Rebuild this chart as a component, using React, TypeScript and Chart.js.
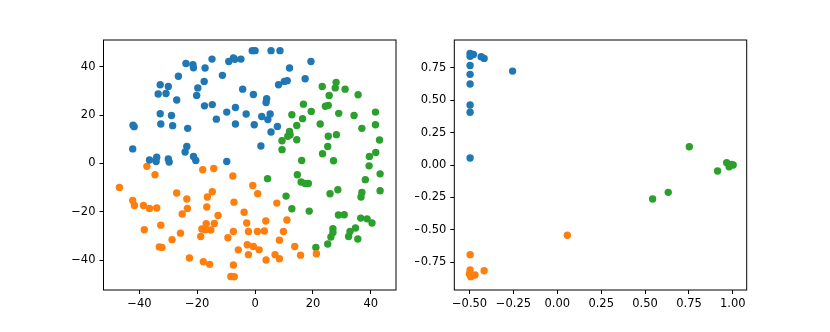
import React, { useEffect, useRef } from 'react';
import { Chart, registerables } from 'chart.js';
Chart.register(...registerables);

const BLUE = '#1f77b4';
const ORANGE = '#ff7f0e';
const GREEN = '#2ca02c';

// Left panel (t-SNE-like embedding)
const leftBlue: [number, number][] = [
  [-23.9, 41.3], [-21.5, 40.8], [-21.3, 39.5], [-14.9, 43.1], [-17.3, 39.4], [-9.1, 42.1],
  [-7.5, 43.6], [-7.0, 43.0], [-4.9, 43.1], [-26.5, 36.0], [-11.3, 36.4], [-17.6, 33.9],
  [-32.8, 32.5], [-30.0, 31.8], [-19.8, 31.2], [-33.5, 28.7], [-30.8, 28.9], [-20.2, 28.1],
  [-4.3, 30.7], [-27.1, 26.2], [-17.5, 23.8], [-14.8, 24.3], [-6.8, 23.1], [-9.8, 21.2],
  [-32.8, 20.5], [-28.9, 19.8], [-3.1, 20.4], [-13.4, 18.3], [-32.6, 16.3], [-28.5, 15.6],
  [-23.3, 14.5], [-6.8, 16.3], [-41.8, 15.2], [-42.2, 15.8], [-42.3, 6.0], [-23.6, 7.0],
  [-24.2, 4.7], [-21.3, 2.9], [-20.5, 1.2], [-36.5, 1.4], [-34.0, 2.6], [-34.2, 0.8],
  [-30.0, 1.8], [-29.7, 0.6], [-9.8, 0.8],
  [-1.0, 46.6], [0.0, 46.6], [5.5, 46.6], [8.6, 46.6], [19.3, 42.1], [11.9, 39.4],
  [17.3, 35.0], [8.1, 32.5], [10.1, 33.9], [11.1, 34.2], [-0.6, 28.5], [4.0, 26.7],
  [3.8, 25.2], [2.3, 19.4], [4.4, 18.1], [5.2, 20.4], [-0.3, 16.0], [7.7, 15.3],
  [5.5, 13.0], [2.0, 7.2],
];
const leftOrange: [number, number][] = [
  [-37.4, -1.2], [-34.6, -4.7], [-46.9, -9.9], [-42.3, -15.3], [-41.7, -17.4], [-38.6, -17.4],
  [-36.5, -18.6], [-34.0, -18.4], [-38.3, -27.4], [-32.6, -25.5], [-33.1, -34.5], [-32.2, -34.7],
  [-28.7, -31.5], [-27.1, -12.2], [-23.6, -14.7], [-23.4, -18.6], [-25.2, -20.9], [-25.8, -28.8],
  [-22.7, -39.1], [-18.1, -2.6], [-14.3, -2.1], [-16.5, -13.9], [-14.8, -11.7], [-16.7, -18.0],
  [-12.8, -21.5], [-16.9, -24.9], [-14.1, -24.8], [-18.4, -27.1], [-17.2, -27.4], [-15.3, -27.5],
  [-18.8, -30.2], [-17.9, -40.6], [-15.7, -41.7], [-7.7, -5.2], [-7.3, -16.0], [-3.8, -20.2],
  [-2.9, -24.6], [-2.3, -28.1], [-7.5, -28.1], [-9.4, -30.7], [-5.8, -35.7], [-2.7, -33.6],
  [-2.3, -37.7], [-7.5, -42.0], [-8.4, -46.7], [-7.2, -46.8],
  [-0.8, -9.1], [0.9, -12.5], [-0.6, -34.3], [1.4, -35.7], [0.8, -28.1], [3.2, -27.9],
  [3.7, -23.8], [7.5, -16.4], [11.0, -23.4], [9.8, -28.1], [8.4, -31.7], [3.8, -39.9],
  [6.9, -37.7], [8.4, -39.4], [13.7, -34.3], [15.7, -37.9], [21.2, -37.3],
];
const leftGreen: [number, number][] = [
  [23.2, 31.8], [28.0, 33.5], [27.7, 31.2], [31.1, 30.7], [25.6, 28.1], [35.6, 28.4],
  [16.7, 24.5], [19.4, 21.5], [24.3, 23.6], [25.3, 24.0], [12.7, 20.1], [16.4, 18.5],
  [28.9, 20.7], [34.2, 19.8], [41.6, 21.2], [14.4, 15.7], [22.5, 16.3], [36.9, 14.5],
  [41.6, 16.0], [11.9, 13.2], [12.1, 11.9], [11.3, 11.2], [9.3, 9.4], [14.4, 9.8],
  [25.3, 11.2], [28.1, 11.9], [43.0, 9.7], [9.3, 5.7], [25.1, 7.0], [23.3, 4.0],
  [41.7, 4.5], [39.5, 2.9], [16.1, 1.2], [27.1, 1.1], [39.4, -1.0],
  [43.2, -4.3], [38.1, -6.7], [14.6, -4.7], [4.3, -6.3], [15.9, -7.7], [17.3, -8.3],
  [18.4, -8.3], [28.6, -10.9], [25.9, -12.5], [36.9, -12.0], [36.6, -13.9], [43.2, -11.3],
  [10.7, -13.5], [12.7, -18.7], [18.7, -19.7], [28.8, -21.3], [30.8, -21.2], [36.5, -22.6],
  [38.7, -22.9], [40.4, -24.6], [34.7, -26.7], [26.9, -27.0], [26.9, -28.5], [26.2, -30.4],
  [32.8, -28.1], [32.3, -30.2], [35.5, -31.2], [25.1, -33.3], [21.0, -34.7],
];

// Right panel (spectral-like embedding)
const rightBlue: [number, number][] = [
  [-0.497, 0.862], [-0.478, 0.853], [-0.497, 0.84], [-0.49, 0.85], [-0.434, 0.836], [-0.417, 0.823],
  [-0.255, 0.725], [-0.497, 0.768], [-0.497, 0.700], [-0.497, 0.625], [-0.497, 0.463],
  [-0.497, 0.407], [-0.497, 0.054],
];
const rightOrange: [number, number][] = [
  [-0.497, -0.692], [-0.497, -0.810], [-0.501, -0.841], [-0.493, -0.862], [-0.469, -0.849],
  [-0.417, -0.816], [0.057, -0.542],
];
const rightGreen: [number, number][] = [
  [0.752, 0.141], [0.965, 0.018], [0.979, -0.013], [0.993, 0.005], [1.002, 0.0], [0.913, -0.046],
  [0.632, -0.211], [0.543, -0.262],
];

const leftXRange = [-52.4, 48.7];
const leftYRange = [-52.3, 51.0];
const rightXRange = [-0.587, 1.079];
const rightYRange = [-0.965, 0.965];

const fmt = (v: number, dec: number) => {
  const s = Math.abs(v).toFixed(dec);
  return v < -1e-9 ? '\u2212' + s : s;
};

const framePlugin = {
  id: 'frame',
  afterDatasetsDraw(chart: any) {
    const { ctx, chartArea: a } = chart;
    ctx.save();
    ctx.strokeStyle = '#000';
    ctx.lineWidth = 1;
    ctx.strokeRect(a.left, a.top, a.right - a.left, a.bottom - a.top);
    ctx.restore();
  },
};

function ds(data: [number, number][], color: string) {
  return {
    data: data.map(([x, y]) => ({ x, y })),
    backgroundColor: color,
    borderWidth: 0,
    pointRadius: 3.7,
    pointHoverRadius: 3.7,
  };
}

function makeConfig(
  sets: any[],
  xr: number[],
  yr: number[],
  step: number,
  dec: number,
  yWidth: number,
  padRight: number
): any {
  const font = { family: 'DejaVu Sans', size: 11.5 };
  const grid = {
    drawOnChartArea: false,
    drawTicks: true,
    tickLength: 4,
    color: '#000',
    lineWidth: 1,
  };
  return {
    type: 'scatter',
    data: { datasets: sets },
    options: {
      animation: false,
      responsive: false,
      events: [],
      layout: { padding: { top: 40, right: padRight, left: 0, bottom: 0 } },
      plugins: { legend: { display: false }, tooltip: { enabled: false } },
      scales: {
        x: {
          type: 'linear',
          min: xr[0],
          max: xr[1],
          grid,
          border: { display: false },
          ticks: {
            stepSize: step,
            includeBounds: false,
            maxRotation: 0,
            color: '#000',
            font,
            padding: 3,
            callback: (v: number) => fmt(v, dec),
          },
          afterFit: (s: any) => {
            s.height = 42;
          },
        },
        y: {
          type: 'linear',
          min: yr[0],
          max: yr[1],
          grid,
          border: { display: false },
          ticks: {
            stepSize: step,
            includeBounds: false,
            color: '#000',
            font,
            padding: 4,
            callback: (v: number) => fmt(v, dec),
          },
          afterFit: (s: any) => {
            s.width = yWidth;
          },
        },
      },
    },
    plugins: [framePlugin],
  };
}

export default function App() {
  const leftRef = useRef<HTMLCanvasElement>(null);
  const rightRef = useRef<HTMLCanvasElement>(null);

  useEffect(() => {
    const c1 = new Chart(
      leftRef.current!,
      makeConfig(
        [ds(leftBlue, BLUE), ds(leftOrange, ORANGE), ds(leftGreen, GREEN)],
        leftXRange,
        leftYRange,
        20,
        0,
        103.5,
        19
      )
    );
    const c2 = new Chart(
      rightRef.current!,
      makeConfig(
        [ds(rightBlue, BLUE), ds(rightOrange, ORANGE), ds(rightGreen, GREEN)],
        rightXRange,
        rightYRange,
        0.25,
        2,
        39.3,
        83.3
      )
    );
    return () => {
      c1.destroy();
      c2.destroy();
    };
  }, []);

  return (
    <div
      style={{
        position: 'absolute',
        left: 0,
        top: 0,
        width: 830,
        height: 332,
        background: '#fff',
        display: 'flex',
      }}
    >
      <canvas ref={leftRef} width={415} height={332} style={{ display: 'block' }} />
      <canvas ref={rightRef} width={415} height={332} style={{ display: 'block' }} />
    </div>
  );
}
